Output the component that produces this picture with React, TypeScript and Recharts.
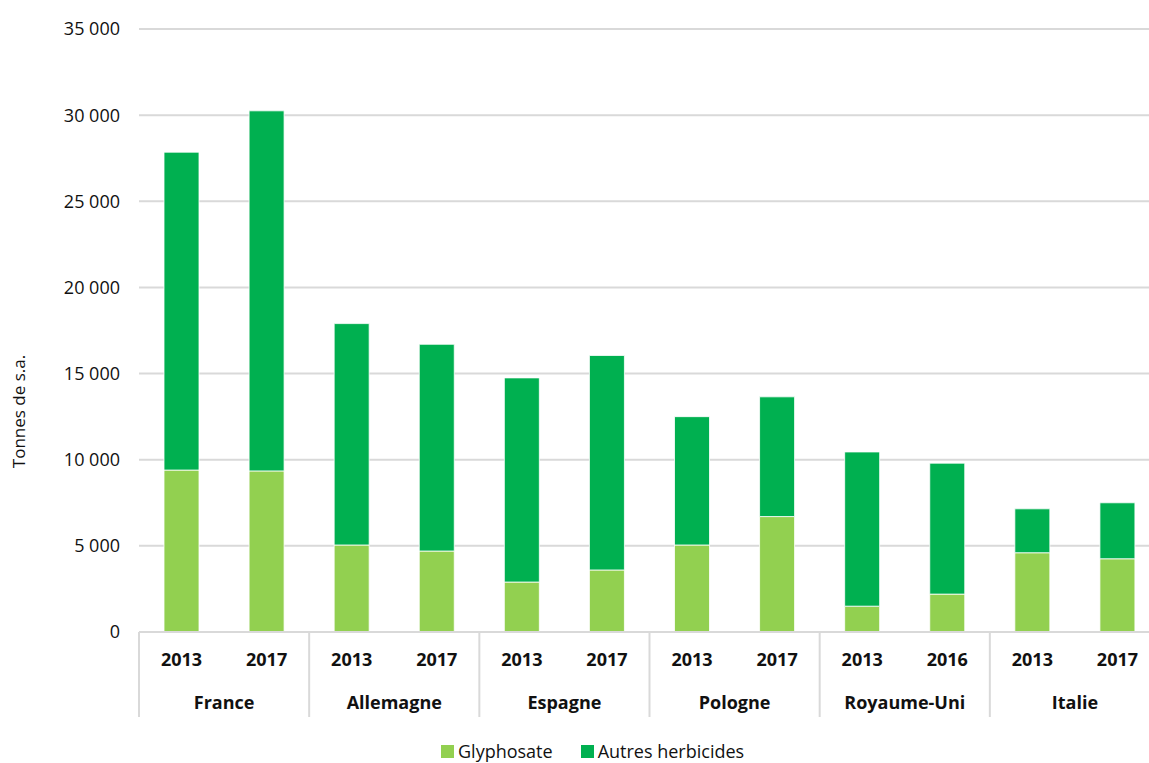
import { Bar, BarChart, CartesianGrid, Legend, XAxis, YAxis } from "recharts"

const countries = ["France", "Allemagne", "Espagne", "Pologne", "Royaume-Uni", "Italie"]
const years = ["2013", "2017", "2013", "2017", "2013", "2017", "2013", "2017", "2013", "2016", "2013", "2017"]
const glyphosate = [9400, 9350, 5050, 4700, 2900, 3600, 5050, 6700, 1500, 2200, 4600, 4250]
const autres = [18450, 20900, 12850, 12000, 11850, 12450, 7450, 6950, 8950, 7600, 2550, 3250]
const yTicks = [0, 5000, 10000, 15000, 20000, 25000, 30000, 35000]

const data = years.map((year, i) => ({
  year,
  country: countries[Math.floor(i / 2)],
  glyphosate: glyphosate[i],
  autres: autres[i],
}))

const FONT = "'Open Sans', sans-serif"
const TEXT = "#111"
const GRID = "#d9d9d9"
const GLY = "#92d050"
const AUT = "#00b050"

const fmt = (v: number) => String(v).replace(/\B(?=(\d{3})+(?!\d))/g, " ")

function YearTick(props: any) {
  const { x, y, payload, index, width } = props
  const band = (width || 1020) / data.length
  return (
    <g>
      <text x={x} y={y + 28} dy="0.35em" textAnchor="middle" fontFamily={FONT} fontSize={18} fontWeight={700} fill={TEXT}>
        {payload.value}
      </text>
      {index % 2 === 0 && (
        <line x1={x - band / 2} x2={x - band / 2} y1={y} y2={y + 85} stroke={GRID} strokeWidth={2} />
      )}
      {index === data.length - 1 && (
        <line x1={x + band / 2} x2={x + band / 2} y1={y} y2={y + 85} stroke={GRID} strokeWidth={2} />
      )}
    </g>
  )
}

function CountryTick(props: any) {
  const { x, y, payload, index, width } = props
  if (index % 2 !== 0) return <g />
  const band = (width || 1020) / data.length
  return (
    <text x={x + band / 2} y={y + 29} dy="0.35em" textAnchor="middle" fontFamily={FONT} fontSize={18} fontWeight={700} fill={TEXT}>
      {payload.value}
    </text>
  )
}

function YLabel(props: any) {
  const vb = props.viewBox || { y: 29, height: 603 }
  const cy = vb.y + vb.height / 2 + 81
  return (
    <text x={25} y={cy} transform={`rotate(-90, 25, ${cy})`} textAnchor="middle" fontFamily={FONT} fontSize={17} fill={TEXT}>
      Tonnes de s.a.
    </text>
  )
}

function LegendContent() {
  const items = [
    { label: "Glyphosate", color: GLY },
    { label: "Autres herbicides", color: AUT },
  ]
  return (
    <div style={{ height: 32, display: "flex", alignItems: "flex-end", fontFamily: FONT, fontSize: 18, color: TEXT }}>
      {items.map((it) => (
        <div key={it.label} style={{ display: "flex", alignItems: "center", height: 22, marginRight: 28 }}>
          <span style={{ width: 13, height: 13, background: it.color, display: "inline-block", marginRight: 4 }} />
          <span style={{ lineHeight: "22px" }}>{it.label}</span>
        </div>
      ))}
    </div>
  )
}

export default function App() {
  return (
    <div style={{ position: "absolute", left: 0, top: 0, width: 1149, height: 763, overflow: "hidden", background: "#fff" }}>
      <BarChart
        width={1170}
        height={763}
        data={data}
        margin={{ top: 29, right: 10, bottom: 13, left: 0 }}
        barCategoryGap={0}
      >
        <CartesianGrid xAxisId="a_year" vertical={false} stroke={GRID} strokeWidth={2} />
        <YAxis
          width={139}
          domain={[0, 35000]}
          ticks={yTicks}
          tickFormatter={fmt}
          axisLine={false}
          tickLine={false}
          tickMargin={13}
          tick={{ fontFamily: FONT, fontSize: 18, fill: TEXT }}
          label={<YLabel />}
        />
        <XAxis
          xAxisId="a_year"
          dataKey="year"
          height={42}
          interval={0}
          tickSize={0}
          tickMargin={0}
          axisLine={{ stroke: GRID, strokeWidth: 2 }}
          tickLine={false}
          tick={<YearTick />}
        />
        <XAxis
          xAxisId="b_country"
          dataKey="country"
          height={44}
          interval={0}
          tickSize={0}
          tickMargin={0}
          axisLine={false}
          tickLine={false}
          tick={<CountryTick />}
        />
        <Legend
          verticalAlign="bottom"
          content={<LegendContent />}
          wrapperStyle={{ left: 441, bottom: 1, width: "auto" }}
        />
        <Bar xAxisId="a_year" dataKey="glyphosate" name="Glyphosate" stackId="a" fill={GLY} stroke="#fff" strokeWidth={0.8} barSize={35} isAnimationActive={false} />
        <Bar xAxisId="a_year" dataKey="autres" name="Autres herbicides" stackId="a" fill={AUT} stroke="#fff" strokeWidth={0.8} barSize={35} isAnimationActive={false} />
      </BarChart>
    </div>
  )
}
